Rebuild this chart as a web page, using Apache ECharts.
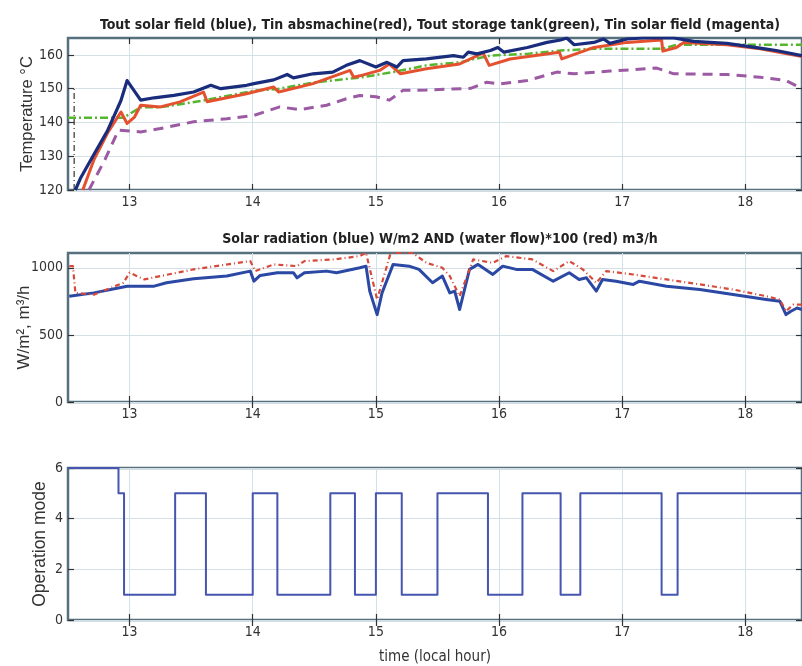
<!DOCTYPE html>
<html>
<head>
<meta charset="utf-8">
<script src="https://cdn.jsdelivr.net/npm/echarts@6/dist/echarts.min.js"></script>
<style>html,body{margin:0;padding:0;background:#fff}#c{width:802px;height:666px}</style>
</head>
<body>
<div id="c"></div>
<script>
// ---------- data ----------
const xTicks = [13, 14, 15, 16, 17, 18];
const titleTop = 'Tout solar field (blue), Tin absmachine(red), Tout storage tank(green), Tin solar field (magenta)';
const titleMid = 'Solar radiation (blue) W/m2 AND (water flow)*100 (red) m3/h';

// Top plot: Tout solar field (blue)
const toutSF_t = [12.56,12.6,12.71,12.82,12.93,12.98,13.09,13.2,13.36,13.52,13.66,13.74,13.95,14.01,14.17,14.28,14.33,14.49,14.65,14.76,14.87,15.0,15.09,15.17,15.22,15.41,15.63,15.71,15.75,15.82,15.93,15.99,16.04,16.23,16.39,16.5,16.55,16.61,16.77,16.85,16.9,17.04,17.17,17.42,17.58,17.85,18.12,18.25,18.46];
const toutSF_v = [120,123.4,130.5,137.5,146.5,152.4,146.6,147.3,148,149,151,150,151,151.5,152.6,154.2,153.2,154.4,154.9,156.9,158.3,156.4,157.8,156.4,158.3,158.8,159.8,159.3,160.8,160.3,161.3,162.2,160.8,162.2,163.7,164.4,165,163,163.7,164.7,163.4,164.7,165,165,164,163.4,162,161.3,159.8];
// Tin absmachine (red)
const tinAbs_t = [12.62,12.71,12.82,12.93,12.98,13.04,13.09,13.25,13.41,13.6,13.63,13.95,14.17,14.21,14.49,14.79,14.82,14.87,15.03,15.11,15.2,15.41,15.68,15.87,15.92,16.09,16.49,16.51,16.77,17.04,17.32,17.33,17.44,17.5,17.85,18.12,18.46];
const tinAbs_v = [120,128.9,136.8,143.1,139.7,141.6,145.1,144.6,146.1,149,146.1,148.5,150.5,149,151.5,155.4,153.4,153.8,155.4,157.3,154.4,155.9,157.3,160.6,156.9,158.8,160.8,158.8,162.2,163.7,164.4,161.1,162.2,163.7,163,161.8,159.5];
// Tout storage tank (green)
const toutST_t = [12.5,12.95,13.09,13.25,13.6,14.01,14.2,14.49,14.87,15.14,15.41,15.68,15.93,16.23,16.5,16.77,17.04,17.33,17.44,18.46];
const toutST_v = [141.4,141.4,144.5,144.5,146.5,149.4,149.9,151.8,153.3,154.9,156.9,157.8,159.8,160.3,161.3,161.8,161.8,161.8,163,163];
// Tin solar field (magenta)
const tinSF_t = [12.67,12.8,12.91,13.09,13.25,13.52,13.79,14.01,14.22,14.38,14.6,14.76,14.87,15.0,15.11,15.22,15.41,15.77,15.9,16.01,16.23,16.47,16.61,16.9,17.28,17.42,17.85,18.12,18.33,18.46];
const tinSF_v = [120,129,137.7,137.2,138.2,140.2,141.1,142.1,144.6,143.8,145.1,147,148,147.6,146.6,149.5,149.6,150.1,151.9,151.4,152.4,154.9,154.4,155.2,156.1,154.4,154.2,153.4,152.4,150];
// black dash-dot trace at start
const startTrace_t = [12.55, 12.55];
const startTrace_v = [120, 150];

// Middle plot: solar radiation (blue)
const rad_t = [12.51,12.71,12.98,13.2,13.3,13.52,13.79,13.98,14.01,14.06,14.2,14.33,14.36,14.42,14.6,14.68,14.87,14.92,14.95,15.01,15.05,15.14,15.27,15.35,15.46,15.54,15.6,15.64,15.68,15.76,15.83,15.95,16.03,16.14,16.27,16.44,16.57,16.65,16.71,16.79,16.84,16.95,17.09,17.14,17.36,17.63,17.9,18.17,18.28,18.33,18.37,18.42,18.46];
const rad_v = [788,813,863,863,888,918,938,975,900,943,963,963,925,963,975,963,1000,1012,826,651,813,1025,1012,988,888,938,813,826,689,988,1025,950,1012,988,988,900,963,913,925,826,913,900,876,900,863,838,801,764,751,651,676,700,689];
// water flow*100 (red)
const flow_t = [12.51,12.54,12.56,12.71,12.95,13.0,13.12,13.25,13.52,13.98,14.02,14.17,14.36,14.42,14.66,14.87,14.92,15.01,15.12,15.3,15.41,15.54,15.6,15.68,15.79,15.95,16.06,16.27,16.44,16.57,16.68,16.79,16.87,17.09,17.36,17.63,17.9,18.17,18.28,18.33,18.39,18.46];
const flow_v = [1012,1012,813,800,888,963,913,938,988,1050,975,1025,1012,1050,1062,1087,1110,764,1110,1110,1037,1000,938,788,1062,1037,1087,1062,975,1050,988,888,975,950,913,876,838,788,764,676,726,726];

// Bottom plot: operation mode (value holds from time until next time)
const mode_t = [12.5,12.91,12.955,13.37,13.62,14.0,14.2,14.63,14.83,15.0,15.21,15.5,15.91,16.19,16.5,16.66,17.32,17.45,18.46];
const mode_v = [6,5,1,5,1,5,1,5,1,5,1,5,1,5,1,5,1,5,5];

const yTicksTop = [120, 130, 140, 150, 160];
const yTicksMid = [0, 500, 1000];
const yTicksBot = [0, 2, 4, 6];

// ---------- chart ----------
const zip = (a, b) => a.map((x, i) => [x, b[i]]);
const narrow = "'Liberation Sans Narrow','Arial Narrow','DejaVu Sans Condensed',sans-serif";
const regular = "'Liberation Sans',Arial,sans-serif";
const boxColor = '#56707e';
const gridColor = '#d3e0e8';
const XMIN = 12.5, XMAX = 18.46;

const grids = [
  {left: 68, right: 0, top: 38, height: 152},
  {left: 68, right: 0, top: 253, height: 149},
  {left: 68, right: 0, top: 468, height: 152}
].map(g => Object.assign(g, {show: true, borderColor: boxColor, borderWidth: 2.5,
  backgroundColor: '#fff', containLabel: false, outerBoundsMode: 'none'}));

const tickStyle = {color: '#333', width: 1.2};

function mainX(gi, extra) {
  return Object.assign({
    type: 'value', gridIndex: gi, min: XMIN, max: XMAX, position: 'bottom',
    axisLine: {show: false},
    axisTick: {show: true, inside: true, length: 6, lineStyle: tickStyle, customValues: xTicks},
    axisLabel: {show: true, color: '#333', fontFamily: narrow, fontSize: 14, margin: 5,
      customValues: xTicks, formatter: v => String(Math.round(v))},
    splitLine: {show: true, lineStyle: {color: gridColor, width: 1}}
  }, extra || {});
}
function topX(gi) {
  return {
    type: 'value', gridIndex: gi, min: XMIN, max: XMAX, position: 'top',
    axisLine: {show: false},
    axisTick: {show: true, inside: true, length: 6, lineStyle: tickStyle, customValues: xTicks},
    axisLabel: {show: false}, splitLine: {show: false}
  };
}
function mainY(gi, min, max, ticks, name, nameGap, nameSize) {
  return {
    type: 'value', gridIndex: gi, min, max, position: 'left',
    name, nameLocation: 'middle', nameGap, nameMoveOverlap: false,
    nameTextStyle: {color: '#333', fontSize: nameSize, fontFamily: regular},
    axisLine: {show: false},
    axisTick: {show: true, inside: true, length: 6, lineStyle: tickStyle, customValues: ticks},
    axisLabel: {show: true, color: '#333', fontFamily: narrow, fontSize: 14, margin: 5,
      customValues: ticks, showMaxLabel: true, showMinLabel: true, formatter: v => String(v)},
    splitLine: {show: true, lineStyle: {color: gridColor, width: 1}}
  };
}
function rightY(gi, min, max, ticks) {
  return {
    type: 'value', gridIndex: gi, min, max, position: 'right',
    axisLine: {show: false},
    axisTick: {show: true, inside: true, length: 6, lineStyle: tickStyle, customValues: ticks},
    axisLabel: {show: false}, splitLine: {show: false}
  };
}

const xBot = mainX(2, {name: 'time (local hour)', nameLocation: 'middle', nameGap: 30, nameMoveOverlap: false,
  nameTextStyle: {color: '#333', fontSize: 15, fontFamily: narrow}});

function line(xi, data, color, width, type, extra) {
  return Object.assign({
    type: 'line', xAxisIndex: xi, yAxisIndex: xi, data, showSymbol: false, symbol: 'none',
    clip: true, animation: false,
    lineStyle: {color, width, type: type || 'solid', cap: 'butt', join: 'round'}
  }, extra || {});
}

const titleStyle = {fontFamily: narrow, fontWeight: 'bold', fontSize: 14, color: '#222'};

const option = {
  animation: false,
  title: [
    {text: titleTop, left: 435, textAlign: 'center', top: 13, textStyle: titleStyle},
    {text: titleMid, left: 435, textAlign: 'center', top: 227, textStyle: titleStyle}
  ],
  grid: grids,
  xAxis: [mainX(0), mainX(1), xBot, topX(0), topX(1), topX(2)],
  yAxis: [
    mainY(0, 120, 165, yTicksTop, 'Temperature \u00B0C', 32, 16.5),
    mainY(1, 0, 1110, yTicksMid, 'W/m\u00B2, m\u00B3/h', 35, 17),
    mainY(2, 0, 6, yTicksBot, 'Operation mode', 19, 17.5),
    rightY(0, 120, 165, yTicksTop),
    rightY(1, 0, 1110, yTicksMid),
    rightY(2, 0, 6, yTicksBot)
  ],
  series: [
    line(0, zip(startTrace_t, startTrace_v), '#333333', 1.2, [6, 3, 1, 3]),
    line(0, zip(tinSF_t, tinSF_v), '#9b5aa3', 3, [10, 7]),
    line(0, zip(toutST_t, toutST_v), '#55b52e', 2.5, [8, 3, 2, 3]),
    line(0, zip(tinAbs_t, tinAbs_v), '#e5502e', 3),
    line(0, zip(toutSF_t, toutSF_v), '#1a2c7c', 3.2),
    line(1, zip(rad_t, rad_v), '#2a48a4', 3),
    line(1, zip(flow_t, flow_v), '#d64a3c', 2.2, [5, 3, 1, 3]),
    line(2, zip(mode_t, mode_v), '#4655b0', 2, 'solid', {step: 'end'})
  ]
};

const chart = echarts.init(document.getElementById('c'), null, {renderer: 'canvas'});
chart.setOption(option);
</script>
</body>
</html>
